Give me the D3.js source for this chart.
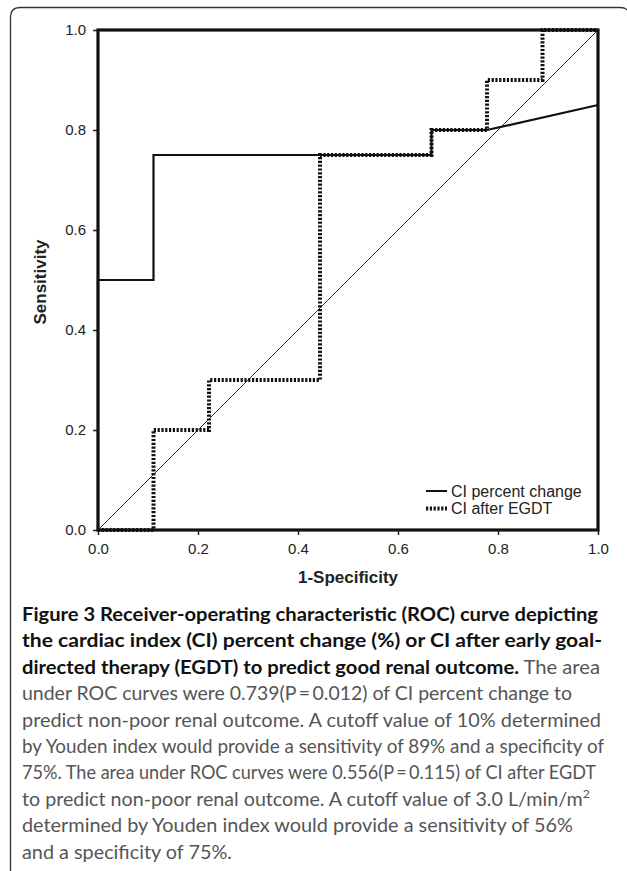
<!DOCTYPE html>
<html>
<head>
<meta charset="utf-8">
<script src="https://cdn.jsdelivr.net/npm/d3@7.9.0/dist/d3.min.js"></script>
<style>
  html, body { margin: 0; padding: 0; background: #fff; }
  svg { display: block; }
</style>
</head>
<body>
<svg id="chart" width="627" height="871"></svg>
<script>
// ROC curve points (1-specificity, sensitivity)
const fprChange = [0, 0, 0.111, 0.111, 0.667, 0.667, 0.778, 1.0];
const tprChange = [0, 0.5, 0.5, 0.75, 0.75, 0.8, 0.8, 0.85];

const fprEgdt = [0, 0.111, 0.111, 0.222, 0.222, 0.444, 0.444, 0.667, 0.667, 0.778, 0.778, 0.889, 0.889, 1.0];
const tprEgdt = [0, 0, 0.2, 0.2, 0.3, 0.3, 0.75, 0.75, 0.8, 0.8, 0.9, 0.9, 1.0, 1.0];

const tickValues = [0, 0.2, 0.4, 0.6, 0.8, 1.0];
const seriesNames = ['CI percent change', 'CI after EGDT'];

// caption lines: [bold part, regular part, superscript]
const captionLines = [
  ['Figure 3 Receiver-operating characteristic (ROC) curve depicting', '', ''],
  ['the cardiac index (CI) percent change (%) or CI after early goal-', '', ''],
  ['directed therapy (EGDT) to predict good renal outcome.', ' The area', ''],
  ['', 'under ROC curves were 0.739(P\u2009=\u20090.012) of CI percent change to', ''],
  ['', 'predict non-poor renal outcome. A cutoff value of 10% determined', ''],
  ['', 'by Youden index would provide a sensitivity of 89% and a specificity of', ''],
  ['', '75%. The area under ROC curves were 0.556(P\u2009=\u20090.115) of CI after EGDT', ''],
  ['', 'to predict non-poor renal outcome. A cutoff value of 3.0 L/min/m', '2'],
  ['', 'determined by Youden index would provide a sensitivity of 56%', ''],
  ['', 'and a specificity of 75%.', '']
];

const svg = d3.select('#chart');

// Outer frame (only left and top edges, rounded corner)
svg.append('path')
  .attr('d', 'M10.5,875 L10.5,17 Q10.5,7.5 20,7.5 L620,7.5 Q625,7.5 627,10')
  .attr('fill', 'none')
  .attr('stroke', '#333')
  .attr('stroke-width', 1.3);

// Plot area
const plotL = 98, plotR = 598, plotT = 30, plotB = 530;
const x = d3.scaleLinear().domain([0, 1]).range([plotL, plotR]);
const y = d3.scaleLinear().domain([0, 1]).range([plotB, plotT]);

const xAxis = d3.axisBottom(x).tickValues(tickValues).tickSize(5).tickFormat(d3.format('.1f'));
const yAxis = d3.axisLeft(y).tickValues(tickValues).tickSize(5).tickFormat(d3.format('.1f'));

const gx = svg.append('g').attr('transform', `translate(0,${plotB})`).call(xAxis);
const gy = svg.append('g').attr('transform', `translate(${plotL},0)`).call(yAxis);
[gx, gy].forEach(g => {
  g.select('.domain').remove();
  g.attr('font-size', null).attr('font-family', null);
  g.selectAll('.tick line').attr('stroke', '#222').attr('stroke-width', 1.5);
  g.selectAll('.tick text')
    .attr('fill', '#222')
    .style('font-family', 'Liberation Sans, Arial, sans-serif')
    .style('font-size', '15px');
});
gx.selectAll('.tick text').attr('y', 10).attr('dy', '0.9em');
gy.selectAll('.tick text').attr('x', -12);

// diagonal reference line
svg.append('line')
  .attr('x1', x(0)).attr('y1', y(0))
  .attr('x2', x(1)).attr('y2', y(1))
  .attr('stroke', '#333')
  .attr('stroke-width', 1);

const line = d3.line().x(d => x(d[0])).y(d => y(d[1]));

// solid: CI percent change
svg.append('path')
  .datum(d3.zip(fprChange, tprChange))
  .attr('d', line)
  .attr('fill', 'none')
  .attr('stroke', '#111')
  .attr('stroke-width', 2.2);

// dotted: CI after EGDT
svg.append('path')
  .datum(d3.zip(fprEgdt, tprEgdt))
  .attr('d', line)
  .attr('fill', 'none')
  .attr('stroke', '#111')
  .attr('stroke-width', 4)
  .attr('stroke-dasharray', '2.2,1.6');

// plot box
svg.append('rect')
  .attr('x', plotL).attr('y', plotT)
  .attr('width', plotR - plotL).attr('height', plotB - plotT)
  .attr('fill', 'none')
  .attr('stroke', '#111')
  .attr('stroke-width', 3.2);

// axis titles
svg.append('text')
  .attr('x', 348)
  .attr('y', 583)
  .attr('text-anchor', 'middle')
  .attr('fill', '#222')
  .style('font-family', 'Liberation Sans, Arial, sans-serif')
  .style('font-weight', 'bold')
  .style('font-size', '17px')
  .text('1-Specificity');

svg.append('text')
  .attr('transform', `translate(46,${(plotT + plotB) / 2 + 2}) rotate(-90)`)
  .attr('text-anchor', 'middle')
  .attr('fill', '#222')
  .style('font-family', 'Liberation Sans, Arial, sans-serif')
  .style('font-weight', 'bold')
  .style('font-size', '17px')
  .text('Sensitivity');

// legend
const legend = svg.append('g').attr('transform', 'translate(426,491)');
seriesNames.forEach((name, i) => {
  const row = legend.append('g').attr('transform', `translate(0,${i * 17.5})`);
  row.append('line')
    .attr('x1', 0).attr('x2', 21)
    .attr('stroke', '#111')
    .attr('stroke-width', i === 0 ? 2 : 4)
    .attr('stroke-dasharray', i === 0 ? null : '2.2,1.6');
  row.append('text')
    .attr('x', 25).attr('y', 5.5)
    .attr('fill', '#222')
    .style('font-family', 'Liberation Sans, Arial, sans-serif')
    .style('font-size', '16px')
    .text(name);
});

// caption
const captionRight = [598, 602, 600, 572, 601, 604, 596, 590, 573, 232];
const caption = svg.append('g')
  .style('font-family', 'Lato, "Open Sans", sans-serif')
  .style('font-size', '19px');
captionLines.forEach((parts, i) => {
  const t = caption.append('text')
    .attr('x', 22)
    .attr('y', 621 + i * 26.4)
    .attr('textLength', captionRight[i] - 22)
    .attr('lengthAdjust', 'spacingAndGlyphs');
  if (parts[0]) t.append('tspan').attr('fill', '#111').style('font-weight', 'bold').text(parts[0]);
  if (parts[1]) t.append('tspan').attr('fill', '#555').text(parts[1]);
  if (parts[2]) t.append('tspan').attr('fill', '#555').attr('dy', -8).style('font-size', '12px').text(parts[2]);
});
</script>
</body>
</html>
